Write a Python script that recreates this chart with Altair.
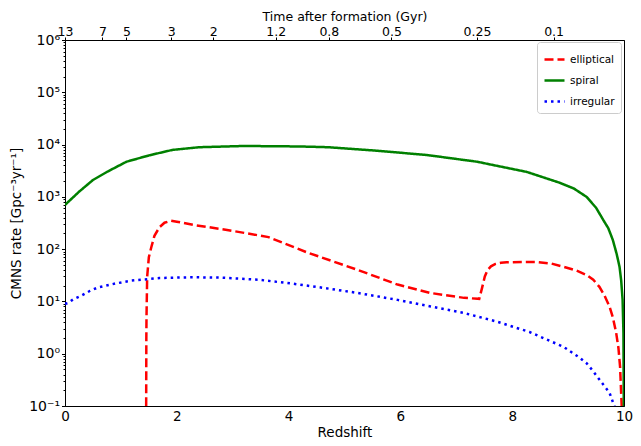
import altair as alt
import pandas as pd

# ---- data ----
names = ["elliptical", "spiral", "irregular"]
colors = ["#ff0000", "#008000", "#0000ff"]

elliptical_z = [1.45, 1.455, 1.458, 1.47, 1.50, 1.545, 1.60, 1.69, 1.78, 1.90, 2.00, 2.30, 2.90, 3.64,
                4.35, 5.24, 5.95, 6.54, 7.14, 7.41, 7.46, 7.51, 7.56, 7.62, 7.70, 7.80, 7.90, 8.20,
                8.44, 8.70, 8.92, 9.15, 9.33, 9.45, 9.56, 9.65, 9.74, 9.80, 9.86, 9.90, 9.93, 9.97]
elliptical_v = [0.01, 2, 5, 30, 70, 110, 180, 263, 320, 350, 335, 290, 233, 170,
                85, 40, 21, 14.5, 11.7, 11.2, 18, 30, 40, 47, 52, 55, 56, 57,
                57, 53, 46, 39, 32, 26, 19, 13, 8, 5, 2.5, 1.3, 0.56, 0.05]

spiral_z = [0, 0.25, 0.5, 0.75, 1.1, 1.5, 1.92, 2.4, 3.2, 4.2, 4.71, 5.6, 6.48, 7.37, 8.26,
            8.85, 9.10, 9.33, 9.50, 9.63, 9.72, 9.80, 9.87, 9.92, 9.95, 9.975, 9.99, 9.998]
spiral_v = [700, 1250, 2100, 3000, 4700, 6200, 7900, 8900, 9400, 9200, 8900, 7600, 6300, 4700, 3000,
            1860, 1450, 1000, 620, 360, 250, 150, 80, 46, 25, 10.7, 2.5, 0.05]

irregular_z = [0, 0.05, 0.15, 0.3, 0.45, 0.59, 0.9, 1.19, 1.69, 2.27, 2.8, 3.46, 4.05, 4.65, 5.24,
               5.95, 6.54, 7.14, 7.73, 8.31, 8.92, 9.20, 9.33, 9.45, 9.56, 9.65, 9.74, 9.82, 9.86]
irregular_v = [9, 9.3, 11, 13, 16, 18.5, 22, 25, 28, 29, 28.5, 26, 22, 18, 14.5,
               10.7, 8, 6, 4.1, 2.6, 1.35, 0.85, 0.66, 0.46, 0.32, 0.24, 0.18, 0.105, 0.08]

bottom_ticks = [0, 2, 4, 6, 8, 10]
top_tick_z = [0.0, 0.67, 1.10, 1.90, 2.65, 3.77, 4.72, 5.84, 7.37, 8.74]
top_tick_labels = ["13", "7", "5", "3", "2", "1.2", "0.8", "0.5", "0.25", "0.1"]

rows = []
for name, zs, vs in [("elliptical", elliptical_z, elliptical_v),
                     ("spiral", spiral_z, spiral_v),
                     ("irregular", irregular_z, irregular_v)]:
    for z, v in zip(zs, vs):
        rows.append({"type": name, "z": z, "rate": v})
df = pd.DataFrame(rows)

y_ticks = [m * 10 ** e for e in range(-1, 6) for m in range(1, 10)] + [1e6]

FONT = "DejaVu Sans"
x_scale = alt.Scale(domain=[0, 10], nice=False, zero=False)
y_scale = alt.Scale(type="log", domain=[0.1, 1e6], nice=False)

is_pow = "abs(log(datum.value)/LN10 - round(log(datum.value)/LN10)) < 0.001"
sup = "['⁻¹','⁰','¹','²','³','⁴','⁵','⁶']"
y_label_expr = f"{is_pow} ? '10' + {sup}[round(log(datum.value)/LN10)+1] : ''"

top_label_expr = (
    "[" + ",".join(f"'{s}'" for s in top_tick_labels) + "]"
    "[indexof([" + ",".join(str(v) for v in top_tick_z) + "], datum.value)]"
)

legend = alt.Legend(
    title=None, orient="none", legendX=472, legendY=2,
    fillColor="white", strokeColor="#cccccc", cornerRadius=3, padding=6,
    symbolType="stroke", symbolSize=400, symbolStrokeWidth=2.5,
    labelFont=FONT, labelFontSize=10.5, labelColor="black", rowPadding=4,
)

lines = alt.Chart(df).mark_line(strokeWidth=2.5, clip=True, strokeCap="butt").encode(
    x=alt.X("z:Q", scale=x_scale,
            axis=alt.Axis(orient="bottom", values=bottom_ticks, format="d", title="Redshift",
                          tickSize=0, labelPadding=3, titlePadding=3, labelFlush=False,
                          labelFontSize=13.5, titleFontSize=13.5)),
    y=alt.Y("rate:Q", scale=y_scale,
            axis=alt.Axis(orient="left", values=y_ticks, labelExpr=y_label_expr,
                          labelOverlap=False, labelFlush=False, labelFontSize=14,
                          tickSize={"condition": {"test": is_pow, "value": 3.5}, "value": 2},
                          title="CMNS rate [Gpc⁻³yr⁻¹]", titlePadding=5, titleFontSize=13.5)),
    color=alt.Color("type:N", scale=alt.Scale(domain=names, range=colors), legend=legend),
    strokeDash=alt.StrokeDash("type:N",
                              scale=alt.Scale(domain=names, range=[[9, 4], [1, 0], [2.5, 4]]),
                              legend=legend),
    detail="type:N",
)

top = alt.Chart(df).mark_line(opacity=0, clip=True).encode(
    x=alt.X("z:Q", scale=x_scale,
            axis=alt.Axis(orient="top", values=top_tick_z, labelExpr=top_label_expr,
                          title="Time after formation (Gyr)", tickSize=3, labelPadding=1.5,
                          labelBaseline="alphabetic", titleBaseline="alphabetic", titleY=-20,
                          labelOverlap=False, labelFlush=False,
                          labelFontSize=12.5, titleFontSize=12.5)),
    y=alt.Y("rate:Q", scale=y_scale, axis=None),
    detail="type:N",
)

chart = alt.layer(lines, top).resolve_axis(x="independent", y="independent").properties(
    width=559, height=366,
    autosize=alt.AutoSizeParams(type="none"),
    padding={"left": 57, "top": 32, "right": 9, "bottom": 38},
).configure_view(stroke="black", strokeWidth=1).configure_axis(
    grid=False, domainColor="black", tickColor="black", labelColor="black", titleColor="black",
    labelFont=FONT, titleFont=FONT, labelFontSize=13, titleFontSize=13, titleFontWeight="normal",
)

chart.save("out.html", embed_options={"renderer": "svg", "actions": False})
